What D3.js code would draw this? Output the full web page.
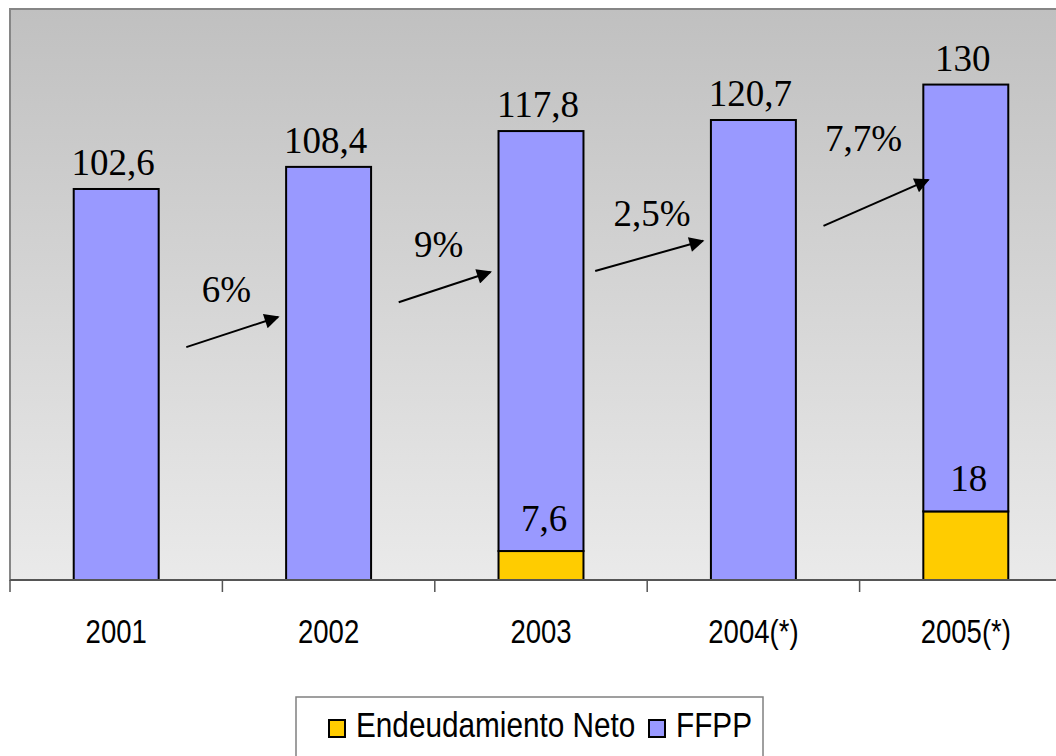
<!DOCTYPE html>
<html>
<head>
<meta charset="utf-8">
<script src="https://cdn.jsdelivr.net/npm/d3@7"></script>
<style>
	body { margin: 0; background: #fff; }
	svg { display: block; }
	.valText { font-family: "Liberation Serif", "Times New Roman", serif; font-size: 37px; fill: #000; }
	.axisText { font-family: "Liberation Sans", Arial, sans-serif; font-size: 34px; fill: #000; }
	.legText { font-family: "Liberation Sans", Arial, sans-serif; font-size: 35px; fill: #000; }
</style>
</head>
<body>
<div id="chart"></div>
<script>

var years = ["2001", "2002", "2003", "2004(*)", "2005(*)"]
var endeudamiento = [0, 0, 7.6, 0, 18]
var ffpp = [102.6, 108.4, 110.2, 120.7, 112]
var totalLabels = ["102,6", "108,4", "117,8", "120,7", "130"]
var endeudLabels = ["", "", "7,6", "", "18"]

// growth arrows between consecutive years (y in data units)
var growthLabels = ["6%", "9%", "2,5%", "7,7%"]
var arrowFrom = [61.1, 72.9, 81.1, 92.9]
var arrowTo = [69.0, 80.8, 89.0, 105.0]
var growthTextAt = [72.9, 84.8, 92.9, 112.6]

var seriesNames = ["Endeudamiento Neto", "FFPP"]
var seriesColors = ["#FFCC00", "#9999FF"]

var width = 1056
var height = 756
var plot = {left: 10, top: 9, right: 1072, bottom: 580}
// no Arial Narrow here, squeeze the sans text instead
var axisSqueeze = 0.81
var legSqueeze = 0.85

var svg = d3.select("#chart").append("svg")
	.attr("width", width)
	.attr("height", height)

var defs = svg.append("defs")
var grad = defs.append("linearGradient")
	.attr("id", "bg")
	.attr("x1", 0).attr("y1", 0).attr("x2", 0).attr("y2", 1)
grad.append("stop").attr("offset", "0%").attr("stop-color", "#C0C0C0")
grad.append("stop").attr("offset", "100%").attr("stop-color", "#EAEAEA")

defs.append("marker")
	.attr("id", "arrowHead")
	.attr("viewBox", "0 0 10 10")
	.attr("refX", 9).attr("refY", 5)
	.attr("markerWidth", 9).attr("markerHeight", 7.5)
	.attr("markerUnits", "strokeWidth")
	.attr("orient", "auto")
	.append("path")
	.attr("d", "M0,0 L10,5 L0,10 z")
	.attr("fill", "#000")

svg.append("rect")
	.attr("x", plot.left)
	.attr("y", plot.top)
	.attr("width", plot.right - plot.left)
	.attr("height", plot.bottom - plot.top)
	.attr("fill", "url(#bg)")
	.attr("stroke", "#868686")
	.attr("stroke-width", 2)

var x = d3.scaleBand()
	.domain(years)
	.range([plot.left, plot.right])
	.paddingInner(0)

var barW = x.bandwidth() * 0.4

var y = d3.scaleLinear()
	.domain([0, 130])
	.range([plot.bottom, plot.bottom - 130 * 3.811])

var stackData = years.map(function(yr, i) {
	return {year: yr, endeud: endeudamiento[i], ffpp: ffpp[i]}
})

var stack = d3.stack().keys(["endeud", "ffpp"])
var layers = stack(stackData)

var bars = svg.append("g")
layers.forEach(function(layer, li) {
	bars.append("g")
		.selectAll("rect")
		.data(layer.filter(function(d) { return d[1] - d[0] > 0 }))
		.enter().append("rect")
			.attr("x", function(d) { return x(d.data.year) + x.bandwidth() / 2 - barW / 2 })
			.attr("y", function(d) { return y(d[1]) })
			.attr("width", barW)
			.attr("height", function(d) { return y(d[0]) - y(d[1]) })
			.attr("fill", seriesColors[li])
			.attr("stroke", "#000")
			.attr("stroke-width", 2)
})

// axis
var axis = svg.append("g")
	.attr("transform", "translate(0," + plot.bottom + ")")
axis.append("line")
	.attr("x1", plot.left).attr("x2", plot.right)
	.attr("stroke", "#555").attr("stroke-width", 2)
axis.selectAll(".tick")
	.data(years)
	.enter().append("line")
		.attr("x1", function(d) { return x(d) })
		.attr("x2", function(d) { return x(d) })
		.attr("y1", 0).attr("y2", 12)
		.attr("stroke", "#555").attr("stroke-width", 1.5)
axis.selectAll(".axisText")
	.data(years)
	.enter().append("text")
		.attr("class", "axisText")
		.attr("transform", function(d) { return "translate(" + (x(d) + x.bandwidth() / 2) + ",63) scale(" + axisSqueeze + ",1)" })
		.attr("text-anchor", "middle")
		.text(function(d) { return d })

// total labels
svg.append("g").selectAll("text")
	.data(years)
	.enter().append("text")
		.attr("class", "valText")
		.attr("x", function(d) { return x(d) + x.bandwidth() / 2 - 3 })
		.attr("y", function(d, i) { return y(endeudamiento[i] + ffpp[i]) - 14 })
		.attr("text-anchor", "middle")
		.text(function(d, i) { return totalLabels[i] })

// endeudamiento labels
svg.append("g").selectAll("text")
	.data(years.filter(function(d, i) { return endeudLabels[i] !== "" }))
	.enter().append("text")
		.attr("class", "valText")
		.attr("x", function(d) { return x(d) + x.bandwidth() / 2 + 3 })
		.attr("y", function(d) { return y(endeudamiento[years.indexOf(d)]) - 20 })
		.attr("text-anchor", "middle")
		.text(function(d) { return endeudLabels[years.indexOf(d)] })

// growth arrows
var arrows = svg.append("g")
growthLabels.forEach(function(lbl, i) {
	var from = years[i], to = years[i + 1]
	var x1 = x(from) + x.bandwidth() / 2 + x.bandwidth() * (i == 2 ? 0.255 : 0.33)
	var x2 = x(to) + x.bandwidth() / 2 - barW / 2 - (i == 3 ? -5 : 8)
	arrows.append("line")
		.attr("x1", x1).attr("y1", y(arrowFrom[i]))
		.attr("x2", x2).attr("y2", y(arrowTo[i]))
		.attr("stroke", "#000")
		.attr("stroke-width", 2)
		.attr("marker-end", "url(#arrowHead)")
	arrows.append("text")
		.attr("class", "valText")
		.attr("x", x1 + (i == 2 ? 57 : 40))
		.attr("y", y(growthTextAt[i]))
		.attr("text-anchor", "middle")
		.text(lbl)
})

// legend
var legend = svg.append("g")
legend.append("rect")
	.attr("x", 296).attr("y", 697)
	.attr("width", 467).attr("height", 80)
	.attr("fill", "#fff")
	.attr("stroke", "#808080")
	.attr("stroke-width", 1.5)

var legX = [329, 649]
seriesNames.forEach(function(name, i) {
	var g = legend.append("g").attr("transform", "translate(" + legX[i] + ",720)")
	g.append("rect")
		.attr("x", 0).attr("y", 0)
		.attr("width", 16).attr("height", 17)
		.attr("fill", seriesColors[i])
		.attr("stroke", "#000")
		.attr("stroke-width", 2)
	g.append("text")
		.attr("class", "legText")
		.attr("transform", "translate(27,17) scale(" + legSqueeze + ",1)")
		.text(name)
})

</script>
</body>
</html>
